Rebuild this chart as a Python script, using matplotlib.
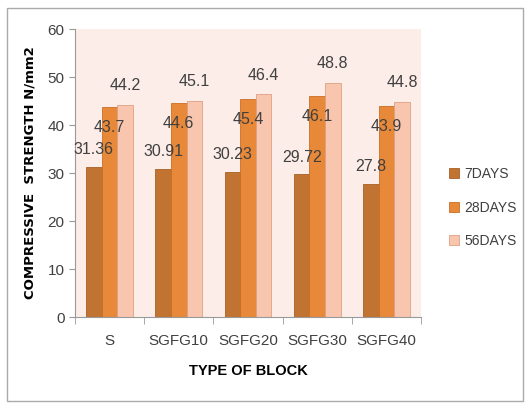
import matplotlib.pyplot as plt
import numpy as np
from matplotlib.patches import Rectangle

plt.rcParams['font.family'] = ['Liberation Sans Narrow', 'DejaVu Sans Condensed', 'Liberation Sans']

blocks = ['S', 'SGFG10', 'SGFG20', 'SGFG30', 'SGFG40']
days7 = [31.36, 30.91, 30.23, 29.72, 27.8]
days28 = [43.7, 44.6, 45.4, 46.1, 43.9]
days56 = [44.2, 45.1, 46.4, 48.8, 44.8]
series = ['7DAYS', '28DAYS', '56DAYS']

colors = ['#C17331', '#E8893A', '#F8C6AE']
edges = ['#A85F25', '#C96F26', '#E0A080']

fig = plt.figure(figsize=(5.31, 4.03), dpi=100)
ax = fig.add_axes([0.141, 0.213, 0.652, 0.715])
ax.set_facecolor('#FCEDE8')

x = np.arange(len(blocks))
w = 0.225
for i, (vals, name) in enumerate(zip([days7, days28, days56], series)):
    pos = x + (i - 1) * w
    ax.bar(pos, vals, w, color=colors[i], edgecolor=edges[i], linewidth=0.6, label=name)
    for p, v in zip(pos, vals):
        # Excel-style label placement: 28 days sits inside the bar top
        if i == 1:
            ty = v - 4.3
        elif i == 0:
            ty = v + 3.6
        else:
            ty = v + 4.0
        ax.text(p, ty, f'{v:g}', ha='center', va='center', fontsize=11.5, color='#404040')

ax.set_xlim(-0.5, len(blocks) - 0.5)
ax.set_ylim(0, 60)
ax.set_yticks(range(0, 61, 10))
ax.set_xticks(x)
ax.set_xticklabels(blocks)
ax.set_xticks(np.arange(-0.5, len(blocks), 1), minor=True)
ax.tick_params(axis='x', which='major', length=0, pad=12, labelsize=11, labelcolor='#404040')
ax.tick_params(axis='x', which='minor', length=5, color='#999999', direction='out')
ax.tick_params(axis='y', length=4, color='#999999', labelsize=11, labelcolor='#404040')

for s in ['top', 'right']:
    ax.spines[s].set_visible(False)
for s in ['left', 'bottom']:
    ax.spines[s].set_color('#999999')

ax.set_ylabel('COMPRESSIVE  STRENGTH N/mm2', fontsize=9.5, fontweight='bold',
              family=['DejaVu Sans'], labelpad=8)
ax.set_xlabel('TYPE OF BLOCK', fontsize=10.5, fontweight='bold', labelpad=12)

leg = ax.legend(loc='center left', bbox_to_anchor=(1.045, 0.38), frameon=False,
                fontsize=10, handlelength=0.7, handleheight=0.7, labelspacing=1.4,
                handletextpad=0.4)
for t in leg.get_texts():
    t.set_color('#404040')

fig.patches.append(Rectangle((0.013, 0.005), 0.972, 0.975, transform=fig.transFigure,
                             fill=False, edgecolor='#AAAAAA', linewidth=1))

plt.savefig('out.png', dpi=100)
